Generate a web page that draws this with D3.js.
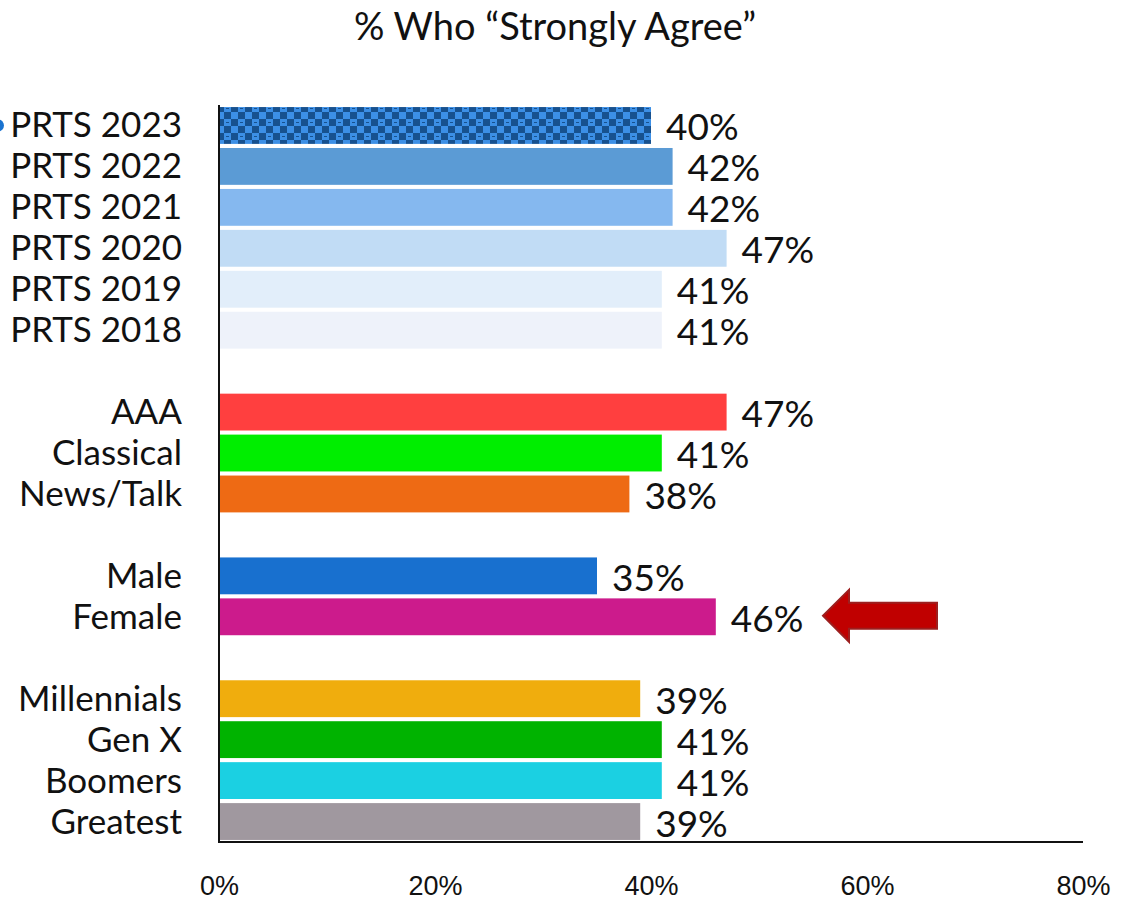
<!DOCTYPE html>
<html>
  <head>
    <meta charset="utf-8">
    <title>% Who "Strongly Agree"</title>
    <script src="https://d3js.org/d3.v7.min.js"></script>
    <style>
      body { margin: 0; background: #fff; }
      svg { font-family: Lato, "Open Sans", sans-serif; }
      .cat { font-size: 35px; fill: #111; }
      .val { font-size: 37px; fill: #111; }
      .tick text { font-size: 27px; fill: #111; }
    </style>
  </head>
  <body>
    <svg id="chart" width="1127" height="907"></svg>
    <script>
      // categories top to bottom; "" marks an empty gap row
      var categories = ["PRTS 2023", "PRTS 2022", "PRTS 2021", "PRTS 2020", "PRTS 2019", "PRTS 2018", "",
        "AAA", "Classical", "News/Talk", "",
        "Male", "Female", "",
        "Millennials", "Gen X", "Boomers", "Greatest"];
      var values = [40, 42, 42, 47, 41, 41, null,
        47, 41, 38, null,
        35, 46, null,
        39, 41, 41, 39];
      var colors = ["url(#checker)", "#5b9bd5", "#85b8ef", "#c1dcf5", "#e2eefa", "#eef2fa", null,
        "#ff3f3f", "#00ee00", "#ee6a14", null,
        "#1870cf", "#cc1b8c", null,
        "#f0ad0d", "#00b300", "#1bd0e2", "#a0989f"];
      var tickValues = [0, 20, 40, 60, 80];

      var chart = d3.select("#chart");
      var margin = { top: 105, right: 44, bottom: 65, left: 219 };
      var width = 1127, height = 907;

      // pattern for the 2023 bar
      var pat = chart.append("defs").append("pattern")
        .attr("id", "checker")
        .attr("patternUnits", "userSpaceOnUse")
        .attr("width", 14).attr("height", 14);
      pat.append("rect").attr("width", 14).attr("height", 14).attr("fill", "#3c8fe6");
      pat.append("rect").attr("width", 7).attr("height", 7).attr("fill", "#17518f");
      pat.append("rect").attr("x", 7).attr("y", 7).attr("width", 7).attr("height", 7).attr("fill", "#17518f");
      pat.append("rect").attr("x", 2).attr("y", 10).attr("width", 3).attr("height", 1).attr("fill", "#17518f");
      pat.append("rect").attr("x", 9).attr("y", 3).attr("width", 3).attr("height", 1).attr("fill", "#3c8fe6");

      var x = d3.scaleLinear()
        .domain([0, 80])
        .range([margin.left, width - margin.right]);
      var y = d3.scaleBand()
        .domain(d3.range(categories.length))
        .range([margin.top, height - margin.bottom])
        .paddingInner(0.1)
        .paddingOuter(0.05);

      var rows = categories.map(function(c, i) { return { cat: c, v: values[i], color: colors[i], i: i }; })
        .filter(function(d) { return d.v !== null; });

      // title
      chart.append("text")
        .attr("x", 555).attr("y", 40)
        .attr("text-anchor", "middle")
        .style("font-size", "38px").style("fill", "#111")
        .text("% Who \u201cStrongly Agree\u201d");

      // bars
      chart.append("g").selectAll("rect")
        .data(rows)
        .enter().append("rect")
          .attr("x", x(0))
          .attr("y", function(d) { return y(d.i); })
          .attr("width", function(d) { return x(d.v) - x(0); })
          .attr("height", y.bandwidth())
          .attr("fill", function(d) { return d.color; });

      // value labels
      chart.append("g").selectAll("text")
        .data(rows)
        .enter().append("text")
          .classed("val", true)
          .attr("x", function(d) { return x(d.v) + 15; })
          .attr("y", function(d) { return y(d.i) + y.bandwidth() / 2 + 15; })
          .text(function(d) { return d.v + "%"; });

      // category labels
      chart.append("g").selectAll("text")
        .data(rows)
        .enter().append("text")
          .classed("cat", true)
          .attr("x", 182)
          .attr("y", function(d) { return y(d.i) + y.bandwidth() / 2 + 12; })
          .attr("text-anchor", "end")
          .text(function(d) { return d.cat; });

      // axes lines
      chart.append("line")
        .attr("x1", x(0)).attr("x2", x(0))
        .attr("y1", margin.top).attr("y2", height - margin.bottom + 1)
        .attr("stroke", "#111").attr("stroke-width", 2);
      chart.append("line")
        .attr("x1", x(0) - 1).attr("x2", x(80))
        .attr("y1", height - margin.bottom).attr("y2", height - margin.bottom)
        .attr("stroke", "#111").attr("stroke-width", 2);

      var xAxis = d3.axisBottom(x)
        .tickValues(tickValues)
        .tickSize(0)
        .tickFormat(function(d) { return d + "%"; });
      var xAxisGroup = chart.append("g")
        .attr("transform", "translate(0," + (height - margin.bottom + 31) + ")")
        .call(xAxis);
      xAxisGroup.select(".domain").remove();
      xAxisGroup.selectAll("text").attr("font-family", null);

      // blue dot cut off at the left edge
      chart.append("circle")
        .attr("cx", -2)
        .attr("cy", y(0) + y.bandwidth() / 2)
        .attr("r", 6)
        .attr("fill", "#1a73d0");

      // arrow pointing at Female
      var ay = y(12) + y.bandwidth() / 2 - 1;
      chart.append("path")
        .attr("d", "M" + 823 + "," + ay +
          "L849," + (ay - 26) + "L849," + (ay - 13) + "L937," + (ay - 13) +
          "L937," + (ay + 13) + "L849," + (ay + 13) + "L849," + (ay + 26) + "Z")
        .attr("fill", "#c00000")
        .attr("stroke", "#9c1f1f")
        .attr("stroke-width", 2);
    </script>
  </body>
</html>
